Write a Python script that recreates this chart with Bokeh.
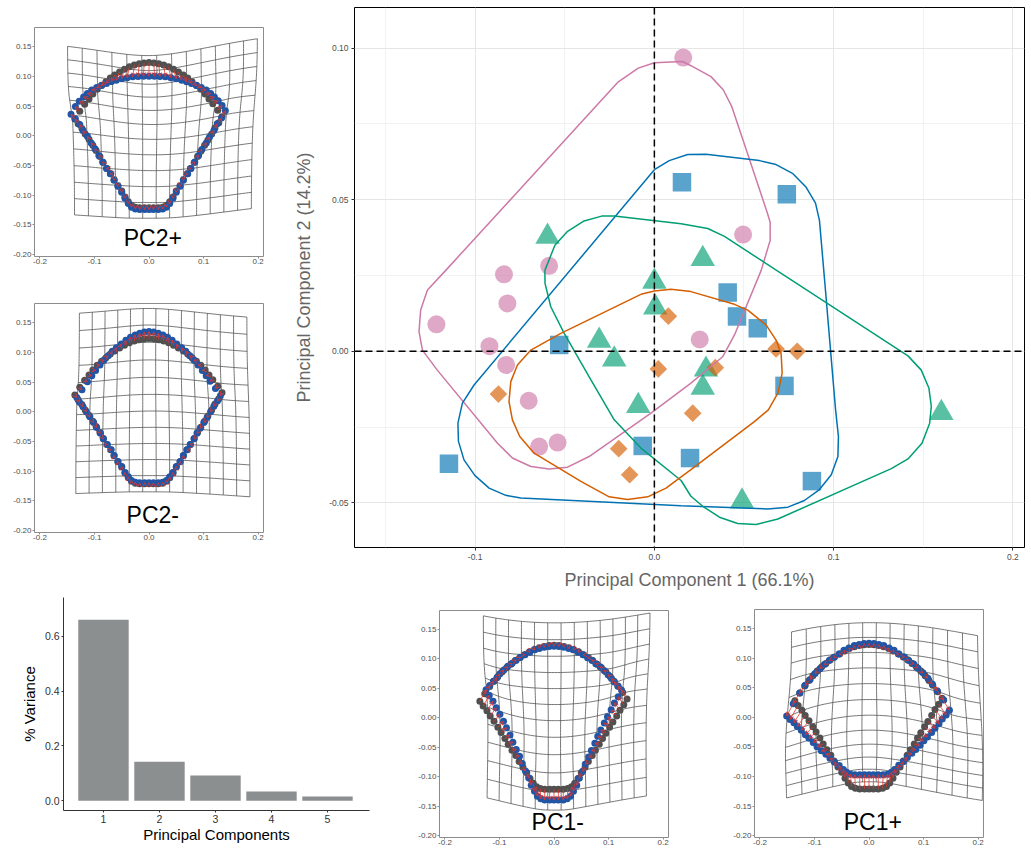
import numpy as np
from bokeh.plotting import figure
from bokeh.models import (ColumnDataSource, FixedTicker, PrintfTickFormatter, Span,
                          Arrow, OpenHead, Range1d)
from bokeh.layouts import row, column
from bokeh.embed import file_html
from bokeh.resources import INLINE
from bokeh.core.properties import value

FONT = "Liberation Sans"

# ---------------- PCA scores (main scatter) ----------------
pink_pc1 = [0.0161, 0.0495, -0.0587, -0.0839, -0.0820, -0.1216, -0.0920, -0.0827, -0.0701, -0.0643, -0.0540, 0.0253]
pink_pc2 = [0.0969, 0.0385, 0.0282, 0.0254, 0.0158, 0.0089, 0.0017, -0.0045, -0.0163, -0.0314, -0.0301, 0.0039]
blue_pc1 = [0.0154, 0.0739, 0.0409, 0.0461, 0.0577, 0.0726, 0.0879, 0.0199, -0.0065, -0.0531, -0.1146]
blue_pc2 = [0.0558, 0.0518, 0.0194, 0.0115, 0.0076, -0.0114, -0.0428, -0.0352, -0.0312, 0.0021, -0.0371]
green_pc1 = [-0.0596, 0.0270, 0.0000, 0.0005, -0.0308, -0.0224, -0.0090, 0.0288, 0.0270, 0.1601, 0.0489]
green_pc2 = [0.0378, 0.0305, 0.0230, 0.0145, 0.0035, -0.0027, -0.0180, -0.0060, -0.0120, -0.0203, -0.0495]
orange_pc1 = [0.0078, 0.0022, -0.0870, -0.0199, -0.0138, 0.0340, 0.0214, 0.0679, 0.0797]
orange_pc2 = [0.0116, -0.0058, -0.0141, -0.0321, -0.0407, -0.0054, -0.0204, 0.0008, 0.0000]

# group hull outlines
hull_pink_x = [0.0, 0.0158, 0.0204, 0.0316, 0.0385, 0.0432, 0.0502, 0.0629, 0.0646, 0.0646, 0.0596, 0.0512, 0.0447, 0.0381, 0.0204, -0.0019, -0.0364, -0.0484, -0.0587, -0.0689, -0.0792, -0.0875, -0.1211, -0.1294, -0.1313, -0.1304, -0.1266, -0.1164, -0.0205, -0.0090]
hull_pink_y = [0.0952, 0.0956, 0.0942, 0.0906, 0.0862, 0.0807, 0.0684, 0.0459, 0.0426, 0.0366, 0.0267, 0.0147, 0.0054, -0.0018, -0.0105, -0.0204, -0.0347, -0.0382, -0.0388, -0.0380, -0.0352, -0.0303, -0.0062, 0.0004, 0.0065, 0.0136, 0.0202, 0.0267, 0.0887, 0.0934]
hull_blue_x = [0.0, 0.0083, 0.0186, 0.0288, 0.0502, 0.0586, 0.0679, 0.0773, 0.0847, 0.0899, 0.0921, 0.0949, 0.1011, 0.1027, 0.1024, 0.0987, 0.0921, 0.0837, 0.0745, 0.0633, 0.0149, -0.0745, -0.0829, -0.0922, -0.1002, -0.1062, -0.1093, -0.1096, -0.1071, -0.1006]
hull_blue_y = [0.0599, 0.0629, 0.0649, 0.0650, 0.0635, 0.0629, 0.0616, 0.0586, 0.0541, 0.0489, 0.0432, 0.0240, -0.0193, -0.0281, -0.0347, -0.0407, -0.0456, -0.0492, -0.0514, -0.0520, -0.0509, -0.0484, -0.0475, -0.0451, -0.0409, -0.0358, -0.0297, -0.0237, -0.0171, -0.0111]
hull_green_x = [-0.0611, -0.0596, -0.0555, -0.0484, -0.0392, -0.0294, -0.0224, 0.0149, 0.0298, 0.0391, 0.1415, 0.1489, 0.1532, 0.1545, 0.1536, 0.1493, 0.1415, 0.1322, 0.0689, 0.0568, 0.0465, 0.0363, 0.0270, 0.0204, 0.0149, -0.0075, -0.0224, -0.0354, -0.0503, -0.0578, -0.0610]
hull_green_y = [0.0267, 0.0289, 0.0350, 0.0396, 0.0430, 0.0446, 0.0446, 0.0421, 0.0405, 0.0379, -0.0015, -0.0062, -0.0122, -0.0182, -0.0237, -0.0303, -0.0355, -0.0387, -0.0553, -0.0571, -0.0568, -0.0547, -0.0511, -0.0478, -0.0426, -0.0319, -0.0226, -0.0094, 0.0059, 0.0147, 0.0224]
hull_orange_x = [-0.0075, 0.0, 0.0093, 0.0204, 0.0447, 0.0521, 0.0623, 0.0679, 0.0707, 0.0713, 0.0689, 0.0636, 0.0558, 0.0204, 0.0065, -0.0037, -0.0149, -0.0252, -0.0410, -0.0671, -0.0751, -0.0792, -0.0811, -0.0801, -0.0764, -0.0689, -0.0522]
hull_orange_y = [0.0188, 0.0199, 0.0205, 0.0197, 0.0155, 0.0136, 0.0087, 0.0037, -0.0007, -0.0072, -0.0138, -0.0193, -0.0232, -0.0390, -0.0451, -0.0480, -0.0489, -0.0480, -0.0429, -0.0336, -0.0281, -0.0226, -0.0166, -0.0100, -0.0045, 0.0004, 0.0059]

# ---------------- variance explained ----------------
pc_labels = ["1", "2", "3", "4", "5"]
pc_variance = [0.661, 0.142, 0.092, 0.033, 0.015]

# ---------------- landmark shapes ----------------
mean_x = [0.000, 0.009, 0.018, 0.027, 0.036, 0.045, 0.054, 0.063, 0.071, 0.079, 0.087, 0.095, 0.103, 0.110, 0.117, 0.126,
          0.134, 0.128, 0.121, 0.115, 0.108, 0.102, 0.095, 0.089, 0.083, 0.076, 0.070, 0.063, 0.057, 0.050, 0.044,
          0.038, 0.032, 0.025, 0.017, 0.008, 0.000, -0.008, -0.017, -0.025, -0.032, -0.038,
          -0.044, -0.050, -0.057, -0.064, -0.070, -0.077, -0.084, -0.090, -0.097, -0.103, -0.110, -0.117, -0.123, -0.130,
          -0.136, -0.127, -0.118, -0.110, -0.103, -0.095, -0.087, -0.079, -0.071, -0.063, -0.054, -0.045, -0.036, -0.027, -0.018, -0.009]
mean_y = [0.123, 0.1225, 0.121, 0.119, 0.116, 0.112, 0.107, 0.102, 0.097, 0.091, 0.085, 0.078, 0.070, 0.062, 0.054, 0.043,
          0.032, 0.022, 0.013, 0.003, -0.007, -0.016, -0.026, -0.035, -0.045, -0.055, -0.064, -0.074, -0.084, -0.093, -0.103,
          -0.111, -0.117, -0.120, -0.121, -0.121, -0.121, -0.121, -0.121, -0.120, -0.117, -0.111,
          -0.103, -0.093, -0.084, -0.074, -0.064, -0.055, -0.045, -0.035, -0.025, -0.016, -0.006, 0.003, 0.012, 0.020,
          0.028, 0.041, 0.053, 0.062, 0.070, 0.078, 0.085, 0.091, 0.097, 0.102, 0.107, 0.112, 0.116, 0.119, 0.121, 0.1225]
# displacement of each landmark at the maximum PC1 score
pc1_dx = [0.000, 0.000, 0.000, 0.000, 0.001, 0.001, 0.001, 0.002, 0.002, 0.003, 0.003, 0.004, 0.005, 0.006, 0.008, 0.011,
          0.0135, 0.0135, 0.0134, 0.0134, 0.0131, 0.0128, 0.0122, 0.0116, 0.0107, 0.0098, 0.0086, 0.0074, 0.0059, 0.0045, 0.0030,
          0.003, 0.002, 0.001, 0.000, 0.000, 0.000, 0.000, 0.000, -0.001, -0.002, -0.003,
          -0.0030, -0.0046, -0.0061, -0.0077, -0.0090, -0.0103, -0.0113, -0.0123, -0.0131, -0.0137, -0.0142, -0.0145, -0.0147, -0.0148,
          -0.0150, -0.012, -0.009, -0.007, -0.005, -0.004, -0.003, -0.003, -0.002, -0.002, -0.001, -0.001, -0.001, 0.000, 0.000, 0.000]
pc1_dy = [0.002, 0.002, 0.002, 0.002, 0.001, 0.001, 0.000, 0.000, -0.001, -0.001, -0.002, -0.003, -0.004, -0.006, -0.009, -0.014,
          -0.0200, -0.0180, -0.0160, -0.0139, -0.0117, -0.0095, -0.0072, -0.0047, -0.0022, 0.0005, 0.0033, 0.0061, 0.0090, 0.0120, 0.0150,
          0.018, 0.021, 0.023, 0.024, 0.024, 0.024, 0.024, 0.024, 0.023, 0.021, 0.018,
          0.0150, 0.0116, 0.0081, 0.0048, 0.0016, -0.0016, -0.0048, -0.0077, -0.0106, -0.0134, -0.0160, -0.0186, -0.0211, -0.0236,
          -0.0260, -0.018, -0.012, -0.008, -0.006, -0.004, -0.003, -0.002, -0.001, -0.001, 0.000, 0.001, 0.001, 0.002, 0.002, 0.002]
# displacement of each landmark at the maximum PC2 score
pc2_dx = [0.000, 0.001, 0.002, 0.003, 0.004, 0.005, 0.006, 0.006, 0.007, 0.008, 0.009, 0.010, 0.010, 0.010, 0.010, 0.008,
          0.006, 0.005, 0.004, 0.004, 0.003, 0.003, 0.002, 0.002, 0.001, 0.001, 0.001, 0.000, 0.000, 0.000, 0.000,
          0.000, 0.000, 0.000, 0.000, 0.000, 0.000, 0.000, 0.000, 0.000, 0.000, 0.000,
          0.000, 0.000, 0.000, 0.000, -0.001, -0.001, -0.001, -0.002, -0.002, -0.003, -0.003, -0.004, -0.004, -0.005,
          -0.007, -0.008, -0.010, -0.010, -0.010, -0.010, -0.009, -0.008, -0.007, -0.006, -0.006, -0.005, -0.004, -0.003, -0.002, -0.001]
pc2_dy = [-0.023, -0.0225, -0.0215, -0.020, -0.0185, -0.016, -0.0135, -0.011, -0.009, -0.0065, -0.004, -0.001, 0.001, 0.003, 0.005, 0.008,
          0.010, 0.008, 0.007, 0.006, 0.005, 0.004, 0.003, 0.002, 0.001, 0.000, 0.000, -0.001, -0.001, -0.002, -0.002,
          -0.003, -0.003, -0.003, -0.003, -0.003, -0.003, -0.003, -0.003, -0.003, -0.003, -0.003,
          -0.002, -0.002, -0.001, -0.001, 0.000, 0.000, 0.001, 0.002, 0.003, 0.004, 0.005, 0.006, 0.007, 0.008,
          0.008, 0.008, 0.005, 0.003, 0.001, -0.001, -0.004, -0.0065, -0.009, -0.011, -0.0135, -0.016, -0.0185, -0.020, -0.0215, -0.0225]

panel_labels = ["PC2+", "PC2-", "PC1-", "PC1+"]

# colours
PINK, BLUE, GREEN, ORANGE = "#CC79A7", "#0072B2", "#009E73", "#D55E00"
GRID_DARK = "#555555"
PT_GRAY = "#505050"
PT_BLUE = "#2255a4"
ARROW_RED = "#e8352a"


# ---------------- helpers ----------------
def tps_map(src, dst):
    n = len(src)

    def kern(a, b):
        d2 = ((a[:, None, :] - b[None, :, :]) ** 2).sum(-1)
        with np.errstate(divide="ignore", invalid="ignore"):
            return np.where(d2 > 0, d2 * np.log(d2), 0.0)

    K = kern(src, src)
    P = np.hstack([np.ones((n, 1)), src])
    L = np.zeros((n + 3, n + 3))
    L[:n, :n] = K
    L[:n, n:] = P
    L[n:, :n] = P.T
    rhs = np.zeros((n + 3, 2))
    rhs[:n] = dst
    coef = np.linalg.lstsq(L, rhs, rcond=None)[0]
    W, A = coef[:n], coef[n:]

    def f(pts):
        return A[0] + pts @ A[1:] + kern(pts, src) @ W
    return f


def style_axis(ax, size, color):
    ax.major_label_text_font = FONT
    ax.major_label_text_font_size = size
    ax.major_label_text_color = color
    ax.axis_label_text_font = FONT
    ax.axis_label_text_font_style = "normal"
    ax.minor_tick_line_color = None


def shape_panel(label, label_y, dx, dy, factor, w, h, ml, mr, mt, mb):
    p = figure(width=w, height=h, min_border_left=ml, min_border_right=mr,
               min_border_top=mt, min_border_bottom=mb,
               x_range=Range1d(-0.21, 0.21), y_range=Range1d(-0.203, 0.182),
               output_backend="svg", toolbar_location=None)
    p.xgrid.visible = False
    p.ygrid.visible = False
    p.outline_line_color = "#8c8c8c"
    p.outline_line_width = 1
    p.xaxis.ticker = FixedTicker(ticks=[-0.2, -0.1, 0.0, 0.1, 0.2])
    p.xaxis.formatter = PrintfTickFormatter(format="%.1f")
    p.yaxis.ticker = FixedTicker(ticks=[-0.2, -0.15, -0.1, -0.05, 0.0, 0.05, 0.1, 0.15])
    p.yaxis.formatter = PrintfTickFormatter(format="%.2f")
    for ax in (p.xaxis[0], p.yaxis[0]):
        style_axis(ax, "8px", "#4d4d4d")
        ax.axis_line_color = None
        ax.major_tick_line_color = "#8c8c8c"
        ax.major_tick_out = 2
        ax.major_tick_in = 0
        ax.major_label_standoff = 1
    p.xaxis.major_label_standoff = 0

    mx = np.array(mean_x)
    my = np.array(mean_y)
    tx = mx + factor * np.array(dx)
    ty = my + factor * np.array(dy)
    warp = tps_map(np.column_stack([mx, my]), np.column_stack([tx, ty]))

    gx = np.linspace(-0.135, 0.186, 14)
    gy = np.linspace(-0.136, 0.1605, 12)
    xs, ys = [], []
    t = np.linspace(-0.136, 0.1605, 60)
    for x in gx:
        wv = warp(np.column_stack([np.full_like(t, x), t]))
        xs.append(wv[:, 0].tolist()); ys.append(wv[:, 1].tolist())
    t = np.linspace(-0.135, 0.186, 60)
    for y in gy:
        wv = warp(np.column_stack([t, np.full_like(t, y)]))
        xs.append(wv[:, 0].tolist()); ys.append(wv[:, 1].tolist())
    p.multi_line(xs, ys, line_color=GRID_DARK, line_width=0.8)

    p.scatter(mx, my, size=7, fill_color=PT_GRAY, line_color=None)
    p.scatter(tx, ty, size=7, fill_color=PT_BLUE, line_color=None)
    asrc = ColumnDataSource(dict(x0=mx, y0=my, x1=tx, y1=ty))
    p.add_layout(Arrow(end=OpenHead(size=4, line_color=ARROW_RED, line_width=0.8),
                       x_start="x0", y_start="y0", x_end="x1", y_end="y1",
                       source=asrc, line_color=ARROW_RED, line_width=0.8))
    p.text(x=[0.007], y=[label_y], text=[label], text_font=value(FONT), text_font_size="23px",
           text_align="center", text_baseline="middle", text_color="black")
    return p


all_pc1 = pink_pc1 + blue_pc1 + green_pc1 + orange_pc1
all_pc2 = pink_pc2 + blue_pc2 + green_pc2 + orange_pc2
pc1_max, pc1_min = max(all_pc1), min(all_pc1)
pc2_max, pc2_min = max(all_pc2), min(all_pc2)

# left column (290 wide, 592 tall)
p_pc2p = shape_panel(panel_labels[0], -0.172, pc2_dx, pc2_dy, 1.0, 290, 272, 34, 27, 27, 16)
p_pc2m = shape_panel(panel_labels[1], -0.173, pc2_dx, pc2_dy, pc2_min / pc2_max, 290, 320, 34, 27, 31, 60)
# bottom row (257 tall)
p_pc1m = shape_panel(panel_labels[2], -0.177, pc1_dx, pc1_dy, pc1_min / pc1_max, 330, 257, 59, 42, 18, 12)
p_pc1p = shape_panel(panel_labels[3], -0.176, pc1_dx, pc1_dy, 1.0, 320, 257, 44, 47, 17, 12)

# ---------------- main scatter ----------------
pm = figure(width=740, height=592, min_border_left=64, min_border_right=6,
            min_border_top=7, min_border_bottom=44,
            x_range=Range1d(-0.1673, 0.2065), y_range=Range1d(-0.0647, 0.1134),
            output_backend="svg", toolbar_location=None)
pm.outline_line_color = "black"
pm.outline_line_width = 1
pm.xaxis.ticker = FixedTicker(ticks=[-0.1, 0.0, 0.1, 0.2], minor_ticks=[-0.15, -0.05, 0.05, 0.15])
pm.yaxis.ticker = FixedTicker(ticks=[-0.05, 0.0, 0.05, 0.10], minor_ticks=[-0.025, 0.025, 0.075])
pm.xgrid.ticker = pm.xaxis[0].ticker
pm.ygrid.ticker = pm.yaxis[0].ticker
pm.xaxis.formatter = PrintfTickFormatter(format="%.1f")
pm.yaxis.formatter = PrintfTickFormatter(format="%.2f")
for g in (pm.xgrid[0], pm.ygrid[0]):
    g.grid_line_color = "#e6e6e6"
    g.grid_line_width = 1
    g.minor_grid_line_color = "#ededed"
    g.minor_grid_line_width = 0.7
for ax in (pm.xaxis[0], pm.yaxis[0]):
    style_axis(ax, "8.5px", "#4d4d4d")
    ax.axis_line_color = None
    ax.major_tick_line_color = "#333333"
    ax.major_tick_out = 3
    ax.major_tick_in = 0
    ax.major_label_standoff = 2
    ax.axis_label_text_font_size = "18px"
    ax.axis_label_text_color = "#666666"
pm.xaxis.axis_label = "Principal Component 1 (66.1%)"
pm.yaxis.axis_label = "Principal Component 2 (14.2%)"
pm.xaxis.axis_label_standoff = 7
pm.yaxis.axis_label_standoff = 12

A = 0.65
pm.scatter(pink_pc1, pink_pc2, marker="circle", size=18, fill_color=PINK, fill_alpha=A, line_color=None)
pm.scatter(blue_pc1, blue_pc2, marker="square", size=18.5, fill_color=BLUE, fill_alpha=A, line_color=None)
pm.scatter(green_pc1, green_pc2, marker="triangle", size=24.5, fill_color=GREEN, fill_alpha=A, line_color=None)
pm.scatter(orange_pc1, orange_pc2, marker="square", angle=np.pi / 4, size=12.5,
           fill_color=ORANGE, fill_alpha=A, line_color=None)

for hx, hy, c in ((hull_pink_x, hull_pink_y, PINK), (hull_blue_x, hull_blue_y, BLUE),
                  (hull_green_x, hull_green_y, GREEN), (hull_orange_x, hull_orange_y, ORANGE)):
    pm.line(hx + hx[:1], hy + hy[:1], line_color=c, line_width=1.5)

pm.add_layout(Span(location=0, dimension="height", line_color="black", line_width=1.5, line_dash="7 4"))
pm.add_layout(Span(location=0, dimension="width", line_color="black", line_width=1.5, line_dash="7 4"))

# ---------------- scree bar chart ----------------
pb = figure(width=380, height=257, min_border_left=63, min_border_right=11,
            min_border_top=5, min_border_bottom=39,
            x_range=Range1d(0.286, 5.75), y_range=Range1d(-0.036, 0.742),
            output_backend="svg", toolbar_location=None)
pb.outline_line_color = None
pb.xgrid.visible = False
pb.ygrid.visible = False
pc_pos = [float(s) for s in pc_labels]
pb.vbar(x=pc_pos, top=pc_variance, bottom=0, width=0.9, fill_color="#8c8f8f", line_color=None)
pb.xaxis.ticker = FixedTicker(ticks=pc_pos)
pb.xaxis.major_label_overrides = {v: s for v, s in zip(pc_pos, pc_labels)}
pb.yaxis.ticker = FixedTicker(ticks=[0.0, 0.2, 0.4, 0.6])
pb.yaxis.formatter = PrintfTickFormatter(format="%.1f")
for ax in (pb.xaxis[0], pb.yaxis[0]):
    style_axis(ax, "10.5px", "#333333")
    ax.axis_line_color = "#333333"
    ax.axis_line_width = 1
    ax.major_tick_line_color = "#333333"
    ax.major_tick_out = 2
    ax.major_tick_in = 0
    ax.major_label_standoff = 2
    ax.axis_label_text_color = "black"
    ax.axis_label_text_font_size = "15px"
pb.xaxis.axis_label = "Principal Components"
pb.yaxis.axis_label = "% Variance"
pb.xaxis.axis_label_standoff = 0
pb.yaxis.axis_label_standoff = 4

# each plot wrapped in its own column so that the row does not align their frames
layout = column(
    row(column(p_pc2p, p_pc2m, spacing=0), column(pm), spacing=0),
    row(column(pb), column(p_pc1m), column(p_pc1p), spacing=0),
    spacing=0,
)

open("out.html", "w").write(file_html(layout, INLINE))
